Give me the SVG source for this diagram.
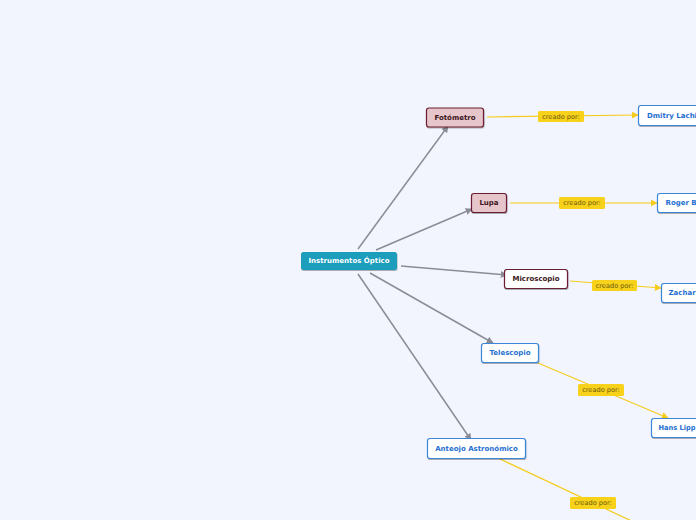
<svg xmlns="http://www.w3.org/2000/svg" width="696" height="520" viewBox="0 0 696 520">
<defs>
<marker id="ag" viewBox="0 0 10 10" refX="9" refY="5" markerWidth="7" markerHeight="7" orient="auto" markerUnits="userSpaceOnUse"><path d="M0,0 L10,5 L0,10 z" fill="#8a8d96"/></marker>
<marker id="ay" viewBox="0 0 10 10" refX="9" refY="5" markerWidth="7" markerHeight="7" orient="auto" markerUnits="userSpaceOnUse"><path d="M0,0 L10,5 L0,10 z" fill="#f5cc1c"/></marker>
<filter id="sh" x="-20%" y="-30%" width="140%" height="170%"><feDropShadow dx="0.5" dy="1" stdDeviation="0.6" flood-color="#000" flood-opacity="0.3"/></filter>
</defs>
<style>
text{font-family:"DejaVu Sans","Liberation Sans",sans-serif;font-weight:bold;text-anchor:middle;dominant-baseline:central}
.c{stroke:#8a8d96;stroke-width:1.5;fill:none;marker-end:url(#ag)}
.y{stroke:#f5cc1c;stroke-width:1.2;fill:none;marker-end:url(#ay)}
.root rect{fill:#1b9dbb;filter:url(#sh)}
.root text{fill:#fff;font-size:7px}
.pk rect{fill:#e7c6cb;stroke:#6a1f30;stroke-width:1.2;filter:url(#sh)}
.pk text{fill:#3c1420;font-size:7px}
.mw rect{fill:#fff;stroke:#6a1f30;stroke-width:1.2;filter:url(#sh)}
.mw text{fill:#3c1420;font-size:7px}
.bw rect{fill:#fff;stroke:#3a86d8;stroke-width:1.2;filter:url(#sh)}
.bw text{fill:#1f6fd0;font-size:7px}
.lb rect{fill:#f7d11a}
.lb text{fill:#6b5a10;font-size:6.6px;font-weight:normal}
</style>
<rect width="696" height="520" fill="#f2f5fd"/>
<g id="connectors">
<path class="c" d="M358,249 L448,126"/>
<path class="c" d="M376,250 L472,209"/>
<path class="c" d="M401,266 L507,275"/>
<path class="c" d="M370,273 L493,343"/>
<path class="c" d="M358,274 L471,440"/>
<path class="y" d="M487,117 L638,115"/>
<path class="y" d="M510,203 L657,203"/>
<path class="y" d="M570,281 L661,288"/>
<path class="y" d="M538,363 L668,418"/>
<path class="y" d="M500,459 L640,525"/>
<g class="lb" id="l1"><rect x="538" y="111" width="46" height="11" rx="1.5"/><text x="561" y="116.5">creado por:</text></g>
<g class="lb" id="l2"><rect x="559" y="197" width="46" height="12" rx="1.5"/><text x="582" y="203">creado por:</text></g>
<g class="lb" id="l3"><rect x="592" y="280" width="45" height="11" rx="1.5"/><text x="614.5" y="285.5">creado por:</text></g>
<g class="lb" id="l4"><rect x="578" y="384" width="46" height="12" rx="1.5"/><text x="601" y="390">creado por:</text></g>
<g class="lb" id="l5"><rect x="570" y="497" width="46" height="12" rx="1.5"/><text x="593" y="503">creado por:</text></g>
</g>
<g id="n-root" class="root"><rect x="301" y="252" width="96" height="18" rx="2.5"/><text x="349" y="261">Instrumentos Óptico</text></g>
<g id="n-fotometro" class="pk"><rect x="426.5" y="108" width="57" height="19" rx="2.5"/><text x="455" y="117.5">Fotómetro</text></g>
<g id="n-lupa" class="pk"><rect x="471.5" y="193.5" width="35" height="19" rx="2.5"/><text x="489" y="203">Lupa</text></g>
<g id="n-microscopio" class="mw"><rect x="504.5" y="269.5" width="63" height="19" rx="2.5"/><text x="536" y="279">Microscopio</text></g>
<g id="n-telescopio" class="bw"><rect x="481.5" y="343.5" width="57" height="19" rx="2.5"/><text x="510" y="353">Telescopio</text></g>
<g id="n-anteojo" class="bw"><rect x="427.5" y="438.5" width="98" height="20" rx="2.5"/><text x="476.5" y="448.5">Anteojo Astronómico</text></g>
<g id="n-dmitry" class="bw"><rect x="638.5" y="105.5" width="70" height="20" rx="2.5"/><text x="647" y="115.5" style="text-anchor:start">Dmitry Lachi</text></g>
<g id="n-roger" class="bw"><rect x="657.5" y="193.5" width="50" height="19" rx="2.5"/><text x="665.5" y="203" style="text-anchor:start">Roger B</text></g>
<g id="n-zachar" class="bw"><rect x="661.5" y="283.5" width="50" height="19" rx="2.5"/><text x="668.5" y="293" style="text-anchor:start">Zachar</text></g>
<g id="n-hans" class="bw"><rect x="651.5" y="418.5" width="60" height="19" rx="2.5"/><text x="658.5" y="428" style="text-anchor:start" textLength="37" lengthAdjust="spacingAndGlyphs">Hans Lipp</text></g>
</svg>
